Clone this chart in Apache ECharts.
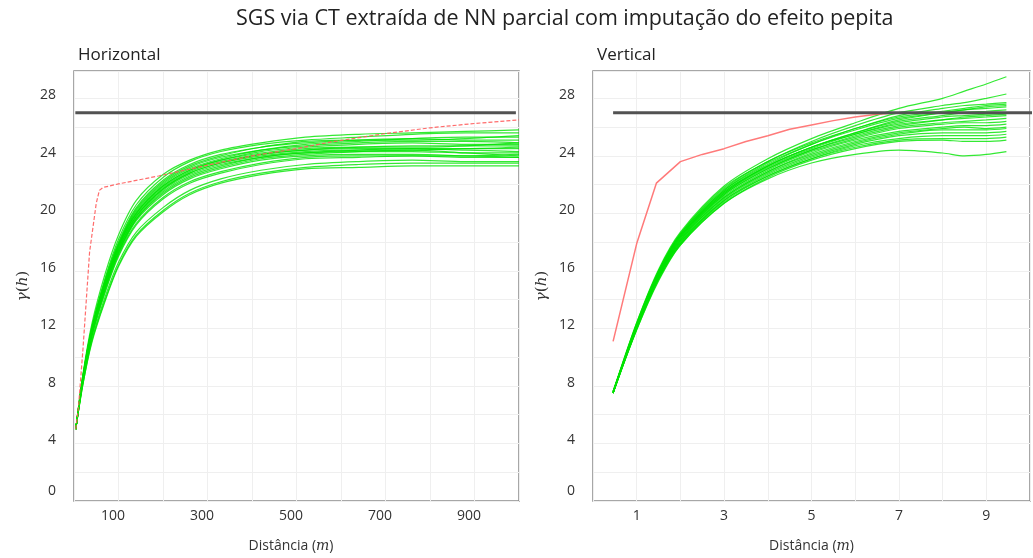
<!DOCTYPE html>
<html>
<head>
<meta charset="utf-8">
<script src="https://cdn.jsdelivr.net/npm/echarts@6/dist/echarts.min.js"></script>
<style>
  html, body { margin: 0; padding: 0; background: #fff; }
  #chart { width: 1033px; height: 558px; }
</style>
</head>
<body>
<div id="chart"></div>
<script>
// ---- Horizontal direction (lag in metres) ----
const hLags = [4, 20, 40, 70, 100, 140, 200, 260, 330, 420, 520, 640, 760, 880, 1000];
const hSims = [
  [5.0, 8.8, 12.3, 15.8, 18.5, 20.9, 22.7, 23.7, 24.4, 24.9, 25.3, 25.5, 25.6, 25.7, 25.8],
  [5.0, 8.7, 12.1, 15.5, 18.2, 20.6, 22.5, 23.6, 24.3, 24.8, 25.1, 25.3, 25.5, 25.6, 25.6],
  [5.0, 8.7, 12.0, 15.4, 18.0, 20.4, 22.3, 23.4, 24.1, 24.6, 25.0, 25.1, 25.1, 25.2, 25.4],
  [5.0, 8.6, 12.0, 15.3, 17.9, 20.3, 22.2, 23.3, 24.0, 24.6, 24.9, 25.1, 25.2, 25.1, 25.1],
  [5.0, 8.6, 11.9, 15.2, 17.8, 20.2, 22.1, 23.2, 23.9, 24.4, 24.7, 24.9, 25.0, 25.0, 24.9],
  [5.0, 8.6, 11.9, 15.1, 17.7, 20.0, 21.9, 23.0, 23.7, 24.3, 24.6, 24.8, 24.9, 24.8, 24.8],
  [5.0, 8.5, 11.8, 15.1, 17.7, 20.0, 21.9, 23.0, 23.7, 24.2, 24.5, 24.6, 24.6, 24.7, 24.9],
  [5.0, 8.5, 11.8, 15.0, 17.6, 19.9, 21.8, 22.9, 23.6, 24.1, 24.4, 24.6, 24.7, 24.7, 24.7],
  [5.0, 8.5, 11.7, 15.0, 17.5, 19.8, 21.7, 22.8, 23.5, 24.1, 24.4, 24.5, 24.5, 24.5, 24.6],
  [5.0, 8.5, 11.7, 14.9, 17.5, 19.8, 21.7, 22.8, 23.5, 24.0, 24.3, 24.4, 24.4, 24.5, 24.5],
  [5.0, 8.4, 11.7, 14.9, 17.4, 19.7, 21.6, 22.7, 23.4, 23.9, 24.2, 24.4, 24.5, 24.4, 24.3],
  [5.0, 8.4, 11.6, 14.8, 17.3, 19.6, 21.5, 22.6, 23.3, 23.9, 24.2, 24.3, 24.3, 24.2, 24.2],
  [5.0, 8.4, 11.6, 14.8, 17.3, 19.6, 21.4, 22.5, 23.2, 23.8, 24.1, 24.3, 24.4, 24.2, 24.0],
  [5.0, 8.4, 11.5, 14.7, 17.2, 19.5, 21.3, 22.4, 23.1, 23.7, 24.0, 24.1, 24.1, 24.0, 23.9],
  [5.0, 8.3, 11.5, 14.6, 17.1, 19.3, 21.1, 22.2, 22.9, 23.5, 23.9, 24.0, 24.0, 23.9, 23.9],
  [5.0, 8.3, 11.4, 14.5, 17.0, 19.2, 21.0, 22.1, 22.8, 23.4, 23.8, 23.9, 24.0, 24.0, 24.1],
  [5.0, 8.2, 11.2, 14.2, 16.6, 18.7, 20.4, 21.6, 22.4, 23.0, 23.4, 23.6, 23.7, 23.6, 23.6],
  [5.0, 8.1, 11.1, 14.0, 16.4, 18.5, 20.2, 21.4, 22.2, 22.8, 23.2, 23.4, 23.5, 23.5, 23.5],
  [5.0, 8.1, 11.0, 13.9, 16.3, 18.4, 20.1, 21.3, 22.1, 22.7, 23.1, 23.2, 23.3, 23.3, 23.3],
  [5.0, 8.6, 11.9, 15.2, 17.8, 20.1, 22.0, 23.1, 23.8, 24.4, 24.8, 25.0, 25.2, 25.3, 25.3]
];
const hModelLags = [4, 10, 20, 35, 50, 57, 65, 100, 190, 300, 400, 500, 575, 700, 800, 900, 1000];
const hModel = [5.0, 6.5, 10.5, 17.3, 20.7, 21.6, 21.8, 22.05, 22.6, 23.35, 24.0, 24.5, 24.95, 25.55, 25.95, 26.25, 26.5];
const hSillLags = [3, 993];

// ---- Vertical direction (lag in metres) ----
const vLags = [0.46, 1, 1.5, 2, 3, 4, 5, 6, 7, 8, 8.5, 9, 9.46];
const vSims = [
  [7.6, 12.4, 16.1, 18.7, 21.9, 23.8, 25.2, 26.3, 27.3, 28.0, 28.5, 29.0, 29.5],
  [7.6, 12.4, 16.0, 18.6, 21.8, 23.6, 25.0, 26.1, 27.0, 27.5, 27.7, 28.0, 28.3],
  [7.5, 12.3, 16.0, 18.6, 21.7, 23.6, 24.9, 25.9, 26.8, 27.3, 27.5, 27.6, 27.7],
  [7.6, 12.3, 15.9, 18.5, 21.6, 23.5, 24.8, 25.9, 26.7, 27.1, 27.3, 27.5, 27.6],
  [7.5, 12.3, 15.9, 18.5, 21.6, 23.4, 24.8, 25.8, 26.6, 27.0, 27.2, 27.4, 27.5],
  [7.6, 12.2, 15.8, 18.4, 21.5, 23.3, 24.6, 25.6, 26.5, 27.0, 27.2, 27.3, 27.4],
  [7.5, 12.2, 15.8, 18.4, 21.4, 23.3, 24.6, 25.6, 26.4, 26.8, 27.0, 27.1, 27.2],
  [7.6, 12.2, 15.8, 18.3, 21.4, 23.2, 24.5, 25.5, 26.3, 26.7, 26.8, 26.9, 27.0],
  [7.5, 12.2, 15.7, 18.3, 21.3, 23.1, 24.4, 25.4, 26.1, 26.5, 26.7, 26.8, 26.9],
  [7.6, 12.1, 15.7, 18.2, 21.3, 23.1, 24.4, 25.3, 26.0, 26.3, 26.4, 26.5, 26.6],
  [7.5, 12.1, 15.7, 18.2, 21.2, 23.0, 24.3, 25.2, 25.9, 26.2, 26.3, 26.3, 26.4],
  [7.6, 12.1, 15.6, 18.1, 21.1, 22.9, 24.2, 25.1, 25.7, 26.0, 26.1, 26.1, 26.2],
  [7.5, 12.1, 15.6, 18.1, 21.1, 22.9, 24.1, 25.0, 25.6, 25.9, 26.0, 25.9, 26.0],
  [7.6, 12.0, 15.6, 18.0, 21.0, 22.8, 24.0, 24.9, 25.5, 25.8, 25.8, 25.8, 25.9],
  [7.5, 12.0, 15.5, 18.0, 20.9, 22.7, 23.9, 24.8, 25.4, 25.6, 25.6, 25.6, 25.7],
  [7.6, 12.0, 15.5, 17.9, 20.9, 22.6, 23.8, 24.7, 25.2, 25.4, 25.4, 25.4, 25.5],
  [7.5, 12.0, 15.4, 17.9, 20.8, 22.6, 23.8, 24.6, 25.1, 25.2, 25.2, 25.2, 25.3],
  [7.6, 11.9, 15.4, 17.8, 20.7, 22.5, 23.7, 24.5, 25.0, 25.1, 25.0, 25.0, 25.1],
  [7.5, 12.2, 15.8, 18.4, 21.5, 23.3, 24.6, 25.5, 26.2, 26.5, 26.6, 26.7, 26.8],
  [7.5, 11.9, 15.3, 17.8, 20.7, 22.4, 23.5, 24.1, 24.4, 24.2, 24.0, 24.1, 24.3]
];
const vModelLags = [0.46, 1.0, 1.45, 2.0, 2.5, 3, 3.5, 4, 4.5, 5, 5.5, 6, 6.5, 7, 7.5, 8, 8.5, 9, 9.5];
const vModel = [11.1, 17.9, 22.1, 23.6, 24.1, 24.5, 25.0, 25.4, 25.85, 26.15, 26.45, 26.7, 26.9, 27.0, 27.0, 27.0, 27.0, 27.0, 27.0];
const vSillLags = [0.46, 10.5];

const sill = 27;
const yTicks = [0, 4, 8, 12, 16, 20, 24, 28];

const FONT = 'Open Sans';
const pairs = (xs, ys) => xs.map((x, i) => [x, ys[i]]);

function valueYAxis(gridIndex) {
  return {
    type: 'value', gridIndex, min: 0, max: 29.9, interval: 2,
    name: '{i|γ}({i|h})', nameLocation: 'middle', nameGap: 43, nameRotate: 90,
    nameTextStyle: {
      fontFamily: 'DejaVu Serif', fontSize: 15, color: '#333',
      rich: { i: { fontFamily: 'DejaVu Serif', fontStyle: 'italic', fontSize: 15, color: '#333' } }
    },
    axisLine: { show: false }, axisTick: { show: false },
    axisLabel: {
      margin: 18, color: '#333', fontFamily: FONT, fontSize: 14,
      formatter: v => {
        if (!yTicks.includes(v)) return '';
        return v === 0 ? '{z|0}' : '{n|' + v + '}';
      },
      rich: {
        z: { padding: [0, 0, 20, 0], fontFamily: FONT, fontSize: 14, color: '#333' },
        n: { padding: [0, 0, 6, 0], fontFamily: FONT, fontSize: 14, color: '#333' }
      }
    },
    splitLine: { show: true, lineStyle: { color: '#efefef', width: 1 } }
  };
}

function valueXAxis(gridIndex, max, interval, labelFn, pad) {
  return {
    type: 'value', gridIndex, min: 0, max, interval,
    name: 'Distância ({i|m})', nameLocation: 'middle', nameGap: 38,
    nameTextStyle: {
      fontFamily: FONT, fontSize: 14, color: '#333', padding: pad,
      rich: { i: { fontFamily: 'DejaVu Serif', fontStyle: 'italic', fontSize: 14, color: '#333' } }
    },
    axisLine: { show: false }, axisTick: { show: false },
    axisLabel: {
      margin: 8, color: '#333', fontFamily: FONT, fontSize: 14, padding: pad,
      formatter: labelFn
    },
    splitLine: { show: true, lineStyle: { color: '#efefef', width: 1 } }
  };
}

const series = [];
hSims.forEach((ys, k) => series.push({
  name: 'h' + k, type: 'line', xAxisIndex: 0, yAxisIndex: 0,
  data: pairs(hLags, ys), showSymbol: false, smooth: 0.3,
  lineStyle: { color: 'rgba(0,228,0,0.8)', width: 1.2 }, z: 2
}));
vSims.forEach((ys, k) => series.push({
  name: 'v' + k, type: 'line', xAxisIndex: 1, yAxisIndex: 1,
  data: pairs(vLags, ys), showSymbol: false, smooth: 0.3,
  lineStyle: { color: 'rgba(0,228,0,0.8)', width: 1.2 }, z: 2
}));
series.push({
  name: 'modelo h', type: 'line', xAxisIndex: 0, yAxisIndex: 0,
  data: pairs(hModelLags, hModel), showSymbol: false,
  lineStyle: { color: '#ff5c5c', width: 1.2, type: [4, 2], opacity: 0.9 }, z: 3
});
series.push({
  name: 'modelo v', type: 'line', xAxisIndex: 1, yAxisIndex: 1,
  data: pairs(vModelLags, vModel), showSymbol: false,
  lineStyle: { color: '#ff7a7a', width: 1.5 }, z: 3
});
series.push({
  name: 'patamar h', type: 'line', xAxisIndex: 0, yAxisIndex: 0,
  data: hSillLags.map(x => [x, sill]), showSymbol: false,
  lineStyle: { color: '#525252', width: 3 }, z: 4
});
series.push({
  name: 'patamar v', type: 'line', xAxisIndex: 1, yAxisIndex: 1,
  data: vSillLags.map(x => [x, sill]), showSymbol: false,
  lineStyle: { color: '#525252', width: 3 }, z: 4
});

const chart = echarts.init(document.getElementById('chart'), null, { renderer: 'canvas' });
chart.setOption({
  animation: false,
  backgroundColor: '#ffffff',
  textStyle: { fontFamily: FONT },
  title: [
    { text: 'SGS via CT extraída de NN parcial com imputação do efeito pepita', left: 231, top: 3,
      textStyle: { fontFamily: FONT, fontSize: 21.5, fontWeight: 'normal', color: '#222' } },
    { text: 'Horizontal', left: 73, top: 42,
      textStyle: { fontFamily: FONT, fontSize: 17, fontWeight: 'normal', color: '#222' } },
    { text: 'Vertical', left: 592, top: 42,
      textStyle: { fontFamily: FONT, fontSize: 17, fontWeight: 'normal', color: '#222' } }
  ],
  grid: [
    { left: 74, top: 71, width: 445, height: 430, show: true, borderColor: '#8a8a8a', borderWidth: 1.5, backgroundColor: '#fff', containLabel: false },
    { left: 593, top: 71, width: 445, height: 430, show: true, borderColor: '#8a8a8a', borderWidth: 1.5, backgroundColor: '#fff', containLabel: false }
  ],
  xAxis: [
    valueXAxis(0, 1000, 100, v => (v % 200 === 100 ? String(v) : ''), [0, 11, 0, 0]),
    valueXAxis(1, 10, 1, v => (v % 2 === 1 ? String(v) : ''), [0, 0, 0, 0])
  ],
  yAxis: [valueYAxis(0), valueYAxis(1)],
  series
});
</script>
</body>
</html>
